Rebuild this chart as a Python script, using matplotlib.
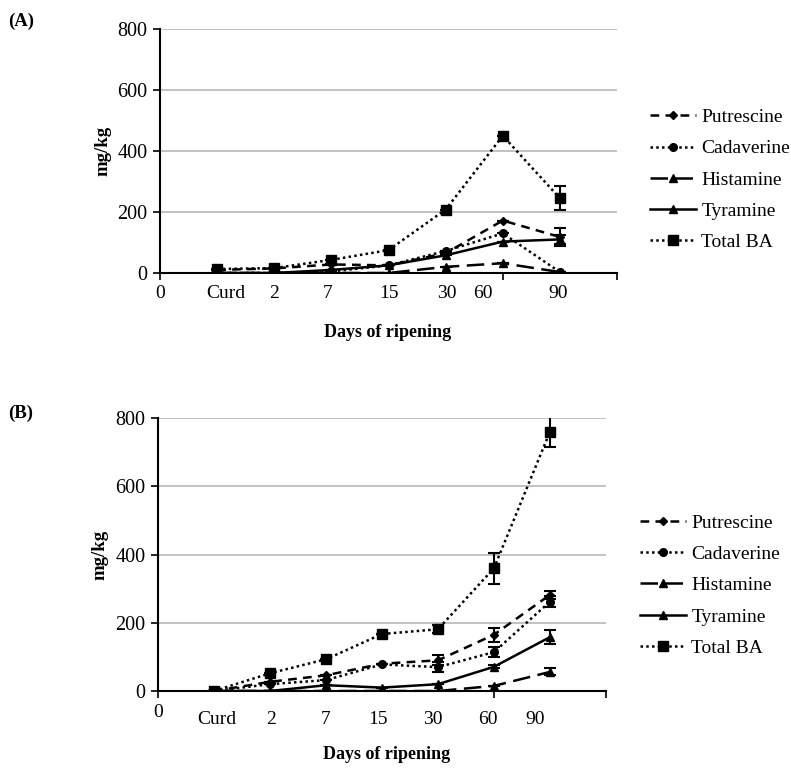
import matplotlib
matplotlib.use('Agg')
import matplotlib.pyplot as plt
from matplotlib.lines import Line2D

plt.rcParams['font.family'] = ['Liberation Serif', 'DejaVu Serif']

# posiciones de los puntos (dias de maduracion)
pos = [1, 2, 3, 4, 5, 6, 7]
series = ['Putrescine', 'Cadaverine', 'Histamine', 'Tyramine', 'Total BA']

tick_text = ['0', 'Curd', '2', '7', '15', '30', '60', '90']
tick_pos_a = [0, 1.16, 2.0, 2.93, 4.0, 5.02, 5.66, 6.97]
tick_pos_b = [0, 1.05, 2.02, 3.0, 3.93, 4.91, 5.89, 6.74]

# Panel A (mg/kg)
put_a = [10, 15, 28, 25, 65, 172, 118]
cad_a = [0, 0, 5, 25, 72, 130, 3]
his_a = [0, 0, 0, 0, 20, 32, 3]
tyr_a = [0, 0, 10, 25, 58, 103, 110]
tot_a = [13, 16, 43, 75, 208, 450, 245]
put_a_err = [0, 0, 0, 0, 0, 0, 28]
cad_a_err = [0, 0, 0, 0, 0, 0, 0]
his_a_err = [0, 0, 0, 0, 0, 0, 0]
tyr_a_err = [0, 0, 0, 0, 0, 0, 15]
tot_a_err = [0, 0, 0, 0, 0, 0, 40]

# Panel B (mg/kg)
put_b = [0, 27, 46, 80, 90, 165, 282]
cad_b = [0, 20, 32, 78, 70, 114, 262]
his_b = [0, 0, 0, 0, 0, 15, 56]
tyr_b = [0, 0, 17, 10, 20, 71, 158]
tot_b = [0, 52, 93, 167, 181, 360, 760]
put_b_err = [0, 0, 0, 0, 15, 20, 12]
cad_b_err = [0, 0, 0, 0, 15, 15, 15]
his_b_err = [0, 0, 0, 0, 0, 0, 10]
tyr_b_err = [0, 0, 0, 0, 0, 5, 20]
tot_b_err = [0, 0, 0, 0, 12, 45, 45]

estilos = {
    'Putrescine': dict(ls=(0, (3.5, 2.5)), marker='D', ms=4.5),
    'Cadaverine': dict(ls=(0, (1, 1.3)), marker='o', ms=5.5),
    'Histamine': dict(ls=(0, (7, 3)), marker='^', ms=5.5),
    'Tyramine': dict(ls='-', marker='^', ms=5.5),
    'Total BA': dict(ls=(0, (1, 1.3)), marker='s', ms=6.5),
}


def dibujar(ax, datos, errores, tick_pos, lab_y, cero_y, xlab_pos, ylab_x):
    for nombre, y, e in zip(series, datos, errores):
        st = estilos[nombre]
        ax.errorbar(pos, y, yerr=e, color='black', lw=1.8, ls=st['ls'],
                    marker=st['marker'], ms=st['ms'], mfc='black', mec='black',
                    ecolor='black', elinewidth=1.5, capsize=4, capthick=1.5,
                    zorder=3)
    ax.set_xlim(0, 8)
    ax.set_ylim(0, 800)
    ax.set_yticks([0, 200, 400, 600, 800])
    ax.set_xticks([0, 6, 8])
    ax.set_xticklabels([])
    ax.grid(axis='y', color='#bdbdbd', lw=1.3)
    ax.set_axisbelow(True)
    for s in ['top', 'right']:
        ax.spines[s].set_visible(False)
    for s in ['left', 'bottom']:
        ax.spines[s].set_linewidth(1.5)
        ax.spines[s].set_zorder(4)
    ax.tick_params(axis='y', direction='out', length=5, width=1.2, labelsize=14.5, pad=4)
    ax.tick_params(axis='x', direction='out', length=5, width=1.2)
    tr = ax.get_xaxis_transform()
    for t, x in zip(tick_text, tick_pos):
        yy = cero_y if t == '0' else lab_y
        ax.text(x, yy, t, transform=tr, ha='center', va='center', fontsize=14)
    ax.text(xlab_pos[0], xlab_pos[1], 'Days of ripening', transform=ax.transAxes,
            ha='center', va='center', fontsize=13, fontweight='bold')
    ax.text(ylab_x, 0.5, 'mg/kg', transform=ax.transAxes, rotation=90,
            ha='center', va='center', fontsize=13.5, fontweight='bold')


fig = plt.figure(figsize=(7.91, 7.72), dpi=100)
ax_a = fig.add_axes([0.2023, 0.6464, 0.5778, 0.316])
ax_b = fig.add_axes([0.1997, 0.1049, 0.5664, 0.3536])

dibujar(ax_a, [put_a, cad_a, his_a, tyr_a, tot_a],
        [put_a_err, cad_a_err, his_a_err, tyr_a_err, tot_a_err],
        tick_pos_a, -0.086, -0.086, (0.497, -0.246), -0.125)
dibujar(ax_b, [put_b, cad_b, his_b, tyr_b, tot_b],
        [put_b_err, cad_b_err, his_b_err, tyr_b_err, tot_b_err],
        tick_pos_b, -0.106, -0.077, (0.51, -0.231), -0.13)

handles = [Line2D([], [], color='black', lw=1.8, ls=estilos[n]['ls'],
                  marker=estilos[n]['marker'], ms=estilos[n]['ms'])
           for n in series]
for anc in [(0.8116, 0.767), (0.799, 0.2416)]:
    fig.legend(handles, series, loc='center left', bbox_to_anchor=anc,
               frameon=False, fontsize=14, handlelength=2.4, handletextpad=0.25,
               labelspacing=0.7, borderaxespad=0)

fig.text(0.01, 1 - 21 / 772, '(A)', fontsize=13.5, fontweight='bold', va='center')
fig.text(0.01, 1 - 413 / 772, '(B)', fontsize=13.5, fontweight='bold', va='center')

fig.savefig('out.png', dpi=100)
